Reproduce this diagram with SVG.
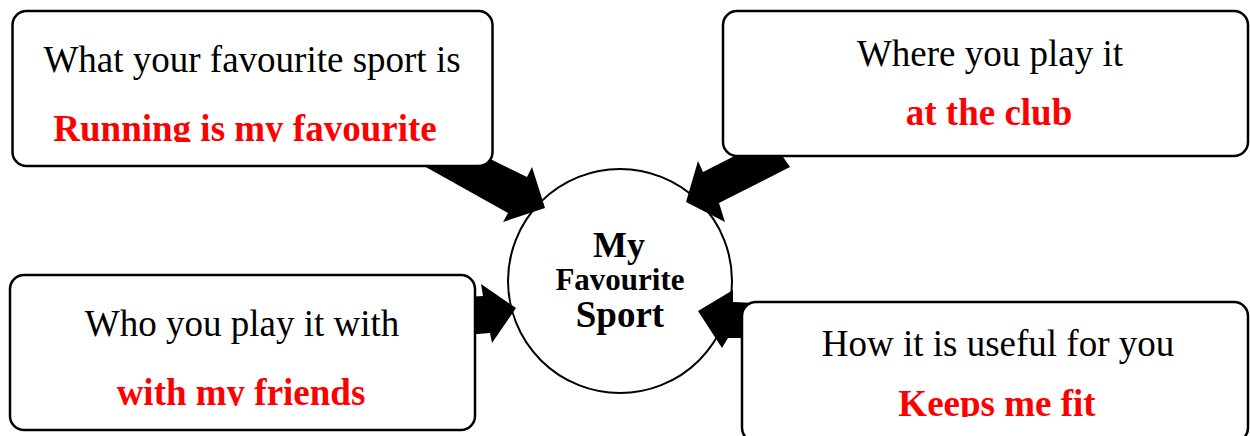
<svg xmlns="http://www.w3.org/2000/svg" width="1250" height="436" viewBox="0 0 1250 436">
<style>
.box{fill:#fff;stroke:#000;stroke-width:2.5}
.q{font-family:"Liberation Serif","Times New Roman",serif;font-size:37px;fill:#000;text-anchor:middle}
.a{font-family:"Liberation Serif","Times New Roman",serif;font-size:37px;font-weight:bold;fill:#ff0000;text-anchor:middle}
.c{font-family:"Liberation Serif","Times New Roman",serif;font-weight:bold;fill:#000;text-anchor:middle}
.arr{fill:#000;stroke:none}
</style>
<defs>
<clipPath id="c1"><rect x="0" y="0" width="1250" height="142"/></clipPath>
<clipPath id="c3"><rect x="0" y="0" width="1250" height="406"/></clipPath>
<clipPath id="c4"><rect x="0" y="0" width="1250" height="417"/></clipPath>
</defs>
<rect width="1250" height="436" fill="#fff"/>
<g id="center">
<circle cx="620" cy="281" r="112" fill="#fff" stroke="#000" stroke-width="2"/>
<text class="c" x="619" y="257" font-size="36">My</text>
<text class="c" x="620" y="290" font-size="31">Favourite</text>
<text class="c" x="620" y="327" font-size="37">Sport</text>
</g>
<g id="connectors">
<polygon class="arr" points="415,161 470,149 527,177 532,167 545,208 503,222 508,213"/>
<polygon class="arr" points="790,167 770,138 703,172 698,161 686,202 725,222 719,203"/>
<polygon class="arr" points="465,297 483,296 481,284 516,308 492,343 490,333 465,335"/>
<polygon class="arr" points="755,303 733,302 733,290 698,311 722,348 728,338 755,338"/>
</g>
<g id="node-what">
<rect class="box" x="12.5" y="11" width="480" height="155" rx="14"/>
<text class="q" x="252" y="72">What your favourite sport is</text>
<text class="a" x="245" y="141" clip-path="url(#c1)">Running is my favourite</text>
</g>
<g id="node-where">
<rect class="box" x="723" y="11" width="525" height="145" rx="14"/>
<text class="q" x="990" y="66">Where you play it</text>
<text class="a" x="989" y="125">at the club</text>
</g>
<g id="node-who">
<rect class="box" x="10" y="275" width="465" height="155" rx="14"/>
<text class="q" x="242" y="336">Who you play it with</text>
<text class="a" x="241" y="405" clip-path="url(#c3)">with my friends</text>
</g>
<g id="node-how">
<rect class="box" x="742" y="302" width="506" height="140" rx="14"/>
<text class="q" x="998" y="356">How it is useful for you</text>
<text class="a" x="997" y="416" clip-path="url(#c4)">Keeps me fit</text>
</g>
</svg>
